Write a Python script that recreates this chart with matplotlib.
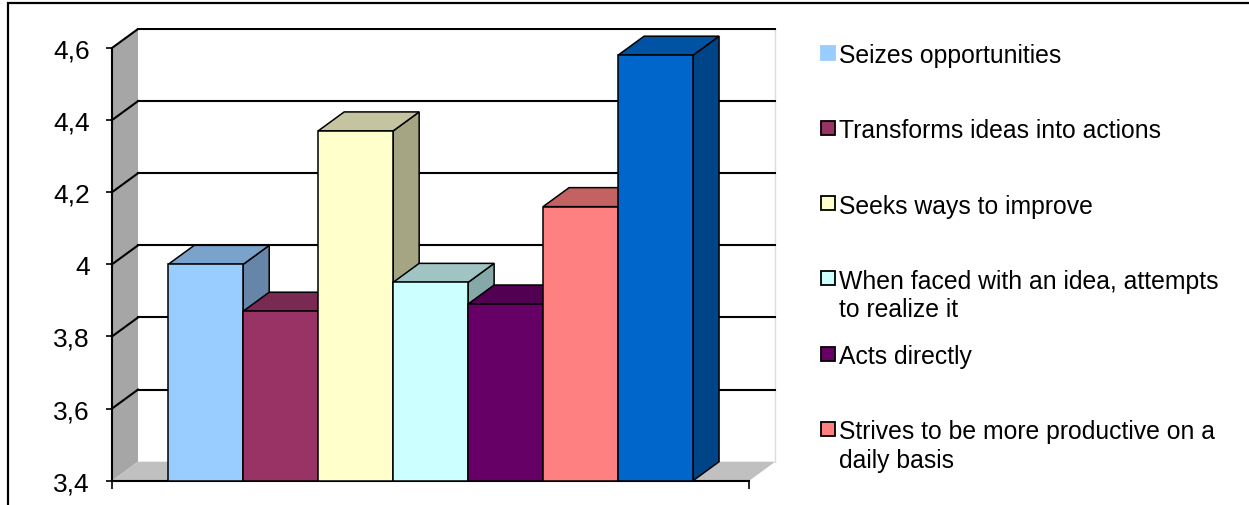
import matplotlib
matplotlib.use("Agg")
import matplotlib.pyplot as plt
from matplotlib.patches import Polygon, Rectangle

plt.rcParams["font.family"] = ["Liberation Sans", "DejaVu Sans"]

# values, one bar per series
values = [4.00, 3.87, 4.37, 3.95, 3.89, 4.16, 4.58]
labels = [
    "Seizes opportunities",
    "Transforms ideas into actions",
    "Seeks ways to improve",
    "When faced with an idea, attempts\nto realize it",
    "Acts directly",
    "Strives to be more productive on a\ndaily basis",
]
front_colors = ["#99ccff", "#993366", "#ffffcc", "#ccffff", "#660066", "#ff8080", "#0066cc"]
top_colors = ["#7aa3cc", "#7a2952", "#c4c4a0", "#a0c4c4", "#520052", "#c46262", "#0052a3"]
side_colors = ["#6685a8", "#662244", "#a5a584", "#85a8a8", "#440044", "#a85454", "#004488"]
yticks = [3.4, 3.6, 3.8, 4.0, 4.2, 4.4, 4.6]
ytick_labels = ["3,4", "3,6", "3,8", "4", "4,2", "4,4", "4,6"]

W, H = 1249, 506
fig = plt.figure(figsize=(W / 100, H / 100), dpi=100)

# plot area in pixels (front plane left/bottom, back wall right/top)
px_left, px_right, px_top, px_bottom = 112, 777, 29, 481.7
ax = fig.add_axes([px_left / W, 1 - px_bottom / H,
                   (px_right - px_left) / W, (px_bottom - px_top) / H])
ax.set_facecolor("none")

x0, x1 = -0.75, 7.75          # front floor extent in bar units
dx, dy = 0.347, 0.0527        # depth offset
ymin = 3.4
ax.set_xlim(x0, 8.12)
ax.set_ylim(ymin, ymin + (px_bottom - px_top) / 360.6)

# walls and floor
ax.add_patch(Polygon([(x0, ymin), (x0, 4.6), (x0 + dx, 4.6 + dy), (x0 + dx, ymin + dy)],
                     closed=True, facecolor="#a6a6a6", edgecolor="none", zorder=1))
ax.add_patch(Polygon([(x0, ymin), (x1, ymin), (x1 + dx, ymin + dy), (x0 + dx, ymin + dy)],
                     closed=True, facecolor="#c0c0c0", edgecolor="none", zorder=1))
ax.plot([x1 + dx, x1 + dx], [ymin + dy, 4.6 + dy], color="#dddddd", lw=1, zorder=1)
for v in yticks[1:]:
    ax.plot([x0 + dx, x1 + dx], [v + dy, v + dy], color="black", lw=1.5, zorder=2)
    ax.plot([x0, x0 + dx], [v, v + dy], color="black", lw=1.5, zorder=2)

# bars, drawn left to right so each front hides the previous side
for i, v in enumerate(values):
    z = 10 + 3 * i
    left, right = i, i + 1
    ax.add_patch(Polygon([(right, ymin), (right + dx, ymin + dy), (right + dx, v + dy), (right, v)],
                         closed=True, facecolor=side_colors[i], edgecolor="black", lw=1.1, zorder=z))
    ax.add_patch(Polygon([(left, v), (right, v), (right + dx, v + dy), (left + dx, v + dy)],
                         closed=True, facecolor=top_colors[i], edgecolor="black", lw=1.1, zorder=z + 1))
    ax.bar(left, v - ymin, bottom=ymin, width=1, align="edge",
           color=front_colors[i], edgecolor="black", lw=1.1, zorder=z + 2)

for side in ("top", "right"):
    ax.spines[side].set_visible(False)
ax.spines["left"].set_bounds(ymin, 4.6)
ax.spines["bottom"].set_bounds(x0, x1)
ax.spines["left"].set_linewidth(1.5)
ax.spines["bottom"].set_linewidth(1.5)
ax.set_yticks(yticks)
ax.set_yticklabels(ytick_labels, fontsize=19)
ax.set_xticks([x0, x1])
ax.set_xticklabels([])
ax.tick_params(axis="y", length=4.5, width=1.2, pad=11.5)
ax.tick_params(axis="x", length=5.5, width=1.2)

# legend drawn by slot, as the original spaces entries evenly
for i, lab in enumerate(labels):
    base = 63 + 75.3 * i
    for j, line in enumerate(lab.split("\n")):
        fig.text(839 / W, 1 - (base + 28.3 * j) / H, line, fontsize=17.8,
                 ha="left", va="baseline")
    ec = front_colors[i] if i == 0 else "black"
    fig.add_artist(Rectangle((821 / W, 1 - (base - 2.5) / H), 14 / W, 14 / H,
                             transform=fig.transFigure, facecolor=front_colors[i],
                             edgecolor=ec, lw=1.3))

# chart area border (cut by the picture's right and bottom edges)
fig.add_artist(Rectangle((8 / W, -0.1), 1.2, 1 - 4 / H + 0.1, transform=fig.transFigure,
                         facecolor="none", edgecolor="black", lw=1.6))

fig.savefig("out.png", dpi=100)
